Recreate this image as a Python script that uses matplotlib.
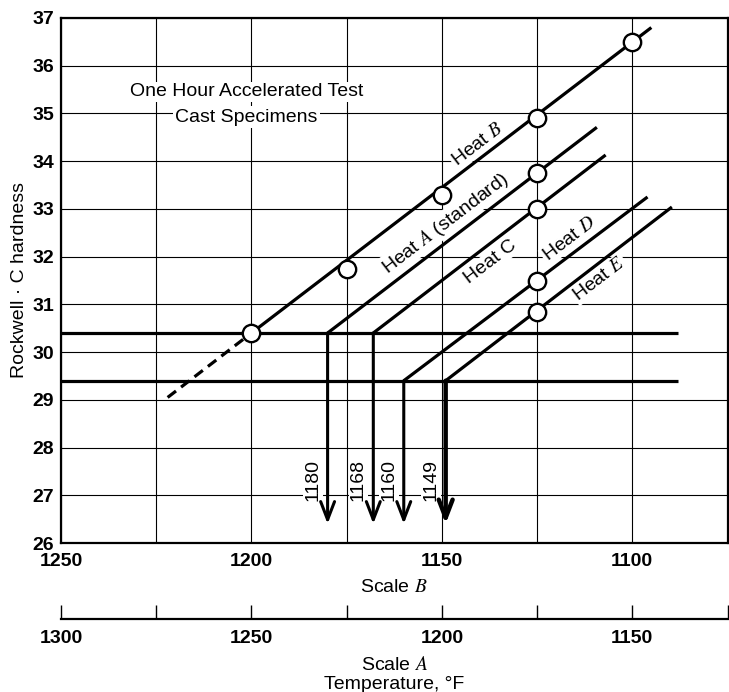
import matplotlib
matplotlib.use("Agg")
import matplotlib.pyplot as plt
import numpy as np

plt.rcParams['font.family'] = ['Liberation Sans', 'DejaVu Sans']
plt.rcParams['mathtext.fontset'] = 'stix'

# Heat B measurements (Scale B temperature, Rockwell C hardness)
heat_b_temp = [1200, 1175, 1150, 1125, 1100]
heat_b_hard = [30.4, 31.75, 33.3, 34.9, 36.5]

# Single measurements of the other heats at 1125
other_heats = ['A', 'C', 'D', 'E']
other_temp = [1125, 1125, 1125, 1125]
other_hard = [33.75, 33.0, 31.5, 30.85]

# Heat lines: start (on a reference level) and end
line_names = ['B', 'A', 'C', 'D', 'E']
line_start_temp = [1200, 1180, 1168, 1160, 1149]
line_start_hard = [30.4, 30.4, 30.4, 29.4, 29.4]
line_end_temp = [1095, 1109.3, 1107, 1096, 1089.6]
line_end_hard = [36.8, 34.71, 34.13, 33.25, 33.04]

# Dashed extrapolation of heat B below 30.4
dash_temp = [1222, 1200]
dash_hard = [29.05, 30.4]

ref_levels = [30.4, 29.4]
ref_end_temp = 1088
arrow_temp = [1180, 1168, 1160, 1149]
arrow_start = [30.4, 30.4, 29.4, 29.4]
arrow_tip = 26.4

# Heat label positions
label_text = ['Heat $B$', 'Heat $A$ (standard)', 'Heat C', 'Heat $D$', 'Heat $E$']
label_x = [1140.5, 1149.1, 1137.3, 1116.5, 1108.7]
label_y = [34.34, 32.70, 31.89, 32.37, 31.53]

FS = 14
W, H = 729, 692
fig = plt.figure(figsize=(W / 100, H / 100), dpi=100)
ax = fig.add_axes([61 / W, (H - 543) / H, (727.5 - 61) / W, (543 - 18) / H])

ax.set_xlim(1250, 1075)
ax.set_ylim(26, 37)
ax.set_xticks([1250, 1200, 1150, 1100])
ax.set_xticks([1225, 1175, 1125, 1075], minor=True)
ax.set_yticks(np.arange(26, 38, 1))
ax.grid(True, which='both', color='black', lw=0.8, zorder=0)
ax.set_axisbelow(True)
ax.tick_params(axis='both', which='both', length=0, labelsize=14)
ax.tick_params(axis='x', pad=7.5)
ax.tick_params(axis='y', pad=5)
for lab in ax.get_xticklabels() + ax.get_yticklabels():
    lab.set_fontweight('bold')
for s in ax.spines.values():
    s.set_linewidth(1.6)

ax.set_ylabel('Rockwell · C hardness', fontsize=FS)
ax.yaxis.set_label_coords(-0.049, 0.5)
ax.set_xlabel('Scale $B$', fontsize=FS)
ax.xaxis.set_label_coords(0.5, -0.069)

# Scale A (offset by 50)
sec = ax.secondary_xaxis(-0.1448, functions=(lambda x: x + 50, lambda x: x - 50))
sec.set_xticks([1300, 1250, 1200, 1150])
sec.set_xticks([1275, 1225, 1175, 1125], minor=True)
sec.tick_params(axis='x', which='both', direction='in', length=10, width=1.0,
                labelsize=14, pad=8)
for lab in sec.get_xticklabels():
    lab.set_fontweight('bold')
sec.spines['bottom'].set_linewidth(1.6)
ax.text(0.5, -0.2155, 'Scale $A$\nTemperature, °F', transform=ax.transAxes,
        ha='center', va='top', fontsize=FS, linespacing=1.12)

# Reference levels
for lvl in ref_levels:
    ax.plot([1250, ref_end_temp], [lvl, lvl], color='black', lw=2.3,
            solid_capstyle='butt', zorder=4, clip_on=False)

# Heat lines
for i in range(len(line_names)):
    ax.plot([line_start_temp[i], line_end_temp[i]],
            [line_start_hard[i], line_end_hard[i]],
            color='black', lw=2.3, solid_capstyle='butt', zorder=4)
ax.plot(dash_temp, dash_hard, color='black', lw=2.3, dashes=(3.3, 2.0), zorder=4)

# Data points
ax.plot(heat_b_temp, heat_b_hard, 'o', ms=12.5, mfc='white', mec='black',
        mew=1.7, zorder=6)
ax.plot(other_temp, other_hard, 'o', ms=12.5, mfc='white', mec='black',
        mew=1.7, zorder=6)

# Arrows down to the temperature scale
for t, y0 in zip(arrow_temp, arrow_start):
    lw = 3.2 if t == 1149 else 2.2
    ax.annotate('', xy=(t, arrow_tip), xytext=(t, y0),
                arrowprops=dict(arrowstyle='->,head_length=1.3,head_width=0.5',
                                lw=lw, color='black', shrinkA=0, shrinkB=0,
                                mutation_scale=10),
                zorder=5)
    ax.text(t + 3.9, 27.31, str(t), rotation=90, ha='center', va='center',
            fontsize=FS, zorder=3,
            bbox=dict(facecolor='white', edgecolor='none', pad=1))

# Rotation of the heat labels follows the heat lines
p0 = ax.transData.transform((line_start_temp[0], line_start_hard[0]))
p1 = ax.transData.transform((line_end_temp[0], line_end_hard[0]))
angle = np.degrees(np.arctan2(p1[1] - p0[1], p1[0] - p0[0]))
for txt, x, y in zip(label_text, label_x, label_y):
    ax.text(x, y, txt, rotation=angle, rotation_mode='anchor', ha='center',
            va='center', fontsize=FS, zorder=3,
            bbox=dict(facecolor='white', edgecolor='none', pad=1))

ax.text(1201.3, 35.45, 'One Hour Accelerated Test', ha='center', va='center',
        fontsize=FS, zorder=3, bbox=dict(facecolor='white', edgecolor='none', pad=1))
ax.text(1201.3, 34.92, 'Cast Specimens', ha='center', va='center',
        fontsize=FS, zorder=3, bbox=dict(facecolor='white', edgecolor='none', pad=2))

fig.savefig('out.png', dpi=100)
